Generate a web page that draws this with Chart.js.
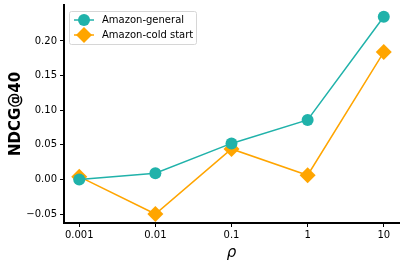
<!DOCTYPE html>
<html><head><meta charset="utf-8">
<script src="https://cdn.jsdelivr.net/npm/chart.js@4"></script>
<style>html,body{margin:0;padding:0;background:#fff}#c{display:block}</style>
</head><body>
<canvas id="c" width="405" height="268"></canvas>
<script>
const categories = ['0.001', '0.01', '0.1', '1', '10'];
const generalValues = [0.000, 0.009, 0.052, 0.086, 0.235];
const coldValues = [0.004, -0.050, 0.044, 0.006, 0.184];
const yTicks = [-0.05, 0.00, 0.05, 0.10, 0.15, 0.20];
const seriesNames = ['Amazon-general', 'Amazon-cold start'];
const colors = ['#20B2AA', '#FFA500'];

const legendPlugin = {
  id: 'mplLegend',
  afterDraw(chart) {
    const ctx = chart.ctx, a = chart.chartArea;
    const x0 = a.left + 5, y0 = a.top + 6, w = 127, h = 33;
    ctx.save();
    ctx.fillStyle = 'rgba(255,255,255,0.8)';
    ctx.strokeStyle = '#d6d6d6';
    ctx.lineWidth = 1;
    ctx.beginPath();
    ctx.roundRect(x0 + 0.5, y0 + 0.5, w, h, 2);
    ctx.fill(); ctx.stroke();
    ctx.font = '10px "DejaVu Sans"';
    ctx.textBaseline = 'middle';
    seriesNames.forEach((name, i) => {
      const cy = y0 + 9 + i * 15;
      const lx = x0 + 5, lw = 20;
      ctx.strokeStyle = colors[i]; ctx.lineWidth = 1.5;
      ctx.beginPath(); ctx.moveTo(lx, cy); ctx.lineTo(lx + lw, cy); ctx.stroke();
      ctx.fillStyle = colors[i];
      ctx.beginPath();
      const mx = lx + lw / 2;
      if (i === 0) { ctx.arc(mx, cy, 6, 0, Math.PI * 2); }
      else { const r = 8; ctx.moveTo(mx, cy - r); ctx.lineTo(mx + r, cy); ctx.lineTo(mx, cy + r); ctx.lineTo(mx - r, cy); ctx.closePath(); }
      ctx.fill();
      ctx.fillStyle = '#000';
      ctx.fillText(name, lx + lw + 8, cy + 0.5);
    });
    ctx.restore();
  }
};

new Chart(document.getElementById('c'), {
  type: 'line',
  data: {
    datasets: [
      { label: seriesNames[0], data: generalValues.map((v, i) => ({x: i, y: v})),
        borderColor: colors[0], backgroundColor: colors[0], borderWidth: 1.5,
        pointStyle: 'circle', pointRadius: 6, pointBorderWidth: 0, tension: 0, clip: false },
      { label: seriesNames[1], data: coldValues.map((v, i) => ({x: i, y: v})),
        borderColor: colors[1], backgroundColor: colors[1], borderWidth: 1.5,
        pointStyle: 'rectRot', pointRadius: 8, pointBorderWidth: 0, tension: 0, clip: false }
    ]
  },
  options: {
    responsive: false, animation: false,
    layout: { autoPadding: false, padding: { top: 5, right: 6, left: 0, bottom: 0 } },
    plugins: { legend: { display: false }, tooltip: { enabled: false } },
    scales: {
      x: {
        type: 'linear', min: -0.2, max: 4.2,
        afterBuildTicks: s => { s.ticks = categories.map((c, i) => ({value: i})); },
        afterFit: s => { s.height = 45; s.paddingLeft = 0; s.paddingRight = 0; },
        ticks: { callback: (v) => categories[v], color: '#000', font: { family: 'DejaVu Sans', size: 10 }, padding: 2, maxRotation: 0, autoSkip: false },
        grid: { drawOnChartArea: false, tickLength: 4, color: '#000', lineWidth: 1 },
        border: { color: '#000', width: 2 },
        title: { display: true, text: 'ρ', color: '#000', font: { family: 'DejaVu Sans', size: 15, style: 'italic' }, padding: { top: 0, bottom: 6 } }
      },
      y: {
        min: -0.063, max: 0.252,
        afterBuildTicks: s => { s.ticks = yTicks.map(v => ({value: v})); },
        afterFit: s => { s.width = 64; s.paddingTop = 0; s.paddingBottom = 0; },
        ticks: { callback: v => (v < 0 ? '\u2212' : '') + Math.abs(v).toFixed(2), color: '#000', font: { family: 'DejaVu Sans', size: 10 }, padding: 3 },
        grid: { drawOnChartArea: false, tickLength: 4, color: '#000', lineWidth: 1 },
        border: { color: '#000', width: 2 },
        title: { display: true, text: 'NDCG@40', color: '#000', font: { family: 'DejaVu Sans', size: 15, weight: 'bold' }, padding: { top: 7, bottom: 0 } }
      }
    }
  },
  plugins: [legendPlugin]
});
</script>
</body></html>
